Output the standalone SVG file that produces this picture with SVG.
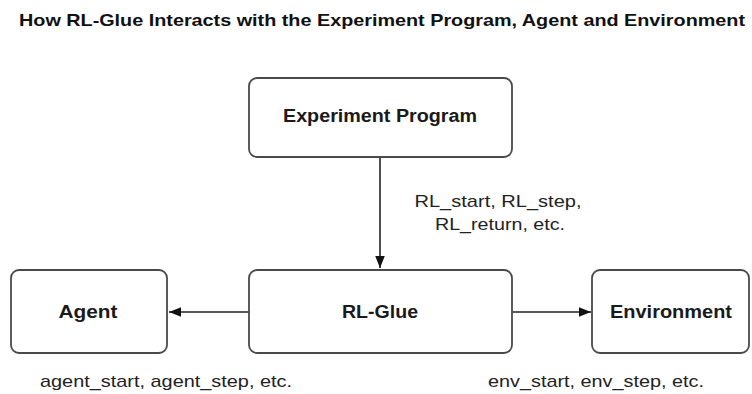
<svg xmlns="http://www.w3.org/2000/svg" width="752" height="394" viewBox="0 0 752 394">
<style>
.box{fill:#fff;stroke:#4a4a4a;stroke-width:1.8}
.lbl{font-family:"Liberation Sans",Arial,sans-serif;font-weight:bold;font-size:18px;fill:#1a1a1a;text-anchor:middle}
.note{font-family:"Liberation Sans",Arial,sans-serif;font-size:17px;fill:#222;text-anchor:middle}
.title{font-family:"Liberation Sans",Arial,sans-serif;font-weight:bold;font-size:17px;fill:#111}
.edge{stroke:#222;stroke-width:1.6;fill:none}
</style>
<defs>
<marker id="ah" viewBox="0 0 10 10" refX="10" refY="5" markerWidth="12" markerHeight="12" markerUnits="userSpaceOnUse" orient="auto">
<path d="M0,1 L10,5 L0,9 Z" fill="#111"/>
</marker>
</defs>
<rect width="752" height="394" fill="#fff"/>
<text class="title" x="19" y="26" textLength="726" lengthAdjust="spacingAndGlyphs">How RL-Glue Interacts with the Experiment Program, Agent and Environment</text>
<g id="connectors">
<line class="edge" x1="380" y1="157" x2="380" y2="268" marker-end="url(#ah)"/>
<line class="edge" x1="249" y1="312" x2="169" y2="312" marker-end="url(#ah)"/>
<line class="edge" x1="512" y1="312" x2="591" y2="312" marker-end="url(#ah)"/>
</g>
<g id="experiment">
<rect class="box" x="249" y="78" width="263" height="79" rx="8"/>
<text class="lbl" x="380" y="122" textLength="194" lengthAdjust="spacingAndGlyphs">Experiment Program</text>
</g>
<g id="rlglue">
<rect class="box" x="249" y="270" width="263" height="83" rx="8"/>
<text class="lbl" x="380" y="318" textLength="76" lengthAdjust="spacingAndGlyphs">RL-Glue</text>
</g>
<g id="agent">
<rect class="box" x="11" y="270" width="156" height="83" rx="8"/>
<text class="lbl" x="88" y="318" textLength="59" lengthAdjust="spacingAndGlyphs">Agent</text>
</g>
<g id="environment">
<rect class="box" x="592" y="270" width="157" height="83" rx="8"/>
<text class="lbl" x="671" y="318" textLength="122" lengthAdjust="spacingAndGlyphs">Environment</text>
</g>
<g id="notes">
<text class="note" x="498" y="207" textLength="167" lengthAdjust="spacingAndGlyphs">RL_start, RL_step,</text>
<text class="note" x="500" y="230" textLength="130" lengthAdjust="spacingAndGlyphs">RL_return, etc.</text>
<text class="note" x="166" y="387" textLength="252" lengthAdjust="spacingAndGlyphs">agent_start, agent_step, etc.</text>
<text class="note" x="596" y="387" textLength="216" lengthAdjust="spacingAndGlyphs">env_start, env_step, etc.</text>
</g>
</svg>
